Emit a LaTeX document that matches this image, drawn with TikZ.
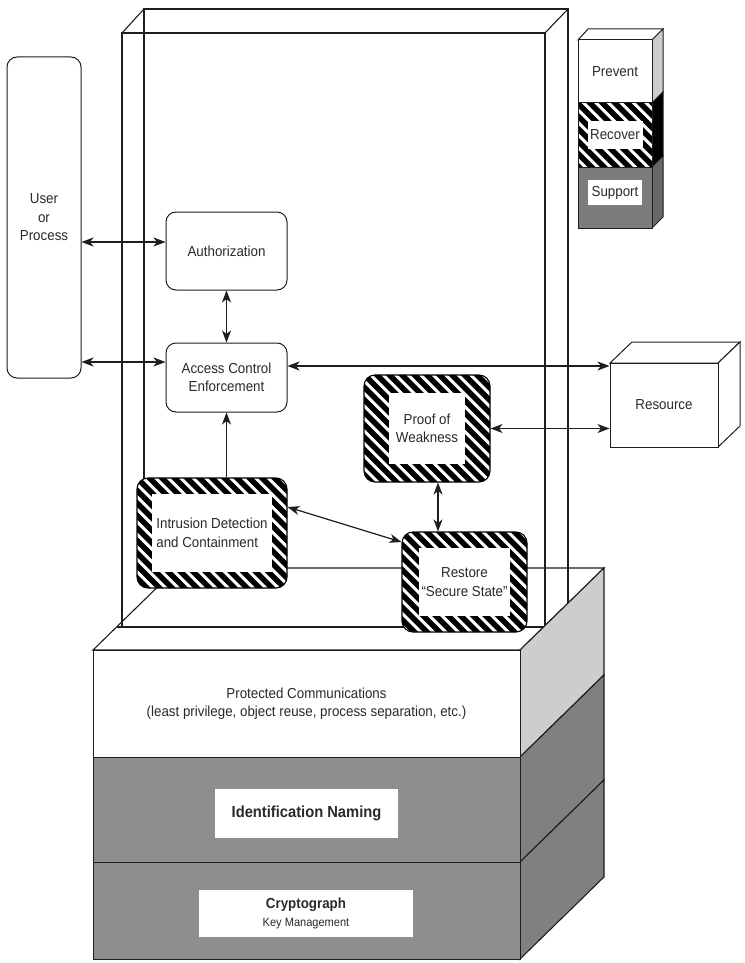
\documentclass[tikz,border=0pt]{standalone}
\usepackage{fontspec}
\setmainfont{Liberation Sans}[FakeStretch=0.92]
\usetikzlibrary{arrows.meta,calc}
\definecolor{edge}{HTML}{1E1E1E}
\definecolor{layergray}{HTML}{8E8E8E}
\definecolor{sidegray}{HTML}{808080}
\definecolor{lightside}{HTML}{CDCDCD}
\definecolor{suppgray}{HTML}{7C7C7C}
\definecolor{suppside}{HTML}{686868}
\definecolor{ink}{HTML}{2A2A2A}
\begin{document}
\begin{tikzpicture}[x=1pt,y=-1pt,
  font=\fontsize{14.5}{18.5}\selectfont, text=ink,
  outline/.style={draw=edge, line width=1pt},
  rbox/.style={outline, rounded corners=10pt, fill=white, align=center, inner sep=0pt},
  hatch/.style 2 args={draw=black, line width=1.1pt, rounded corners=11pt, fill=white,
    align=left, inner sep=0pt,
    path picture={
      \foreach \k in {-30,...,16}
        \draw[black, line width=5.4pt, sharp corners]
          ([xshift=\k*12.5pt-80pt, yshift=80pt]path picture bounding box.north) -- ++(320pt,-320pt);
      \fill[white, sharp corners]
        ([xshift=#1, yshift=#2]path picture bounding box.south west)
        rectangle ([xshift=-#1, yshift=-#2]path picture bounding box.north east);
    }},
  legfront/.style={outline, fill=white, minimum width=74pt, inner sep=0pt},
  dbl/.style={{Stealth[length=12pt, width=9pt, inset=3.5pt]}-{Stealth[length=12pt, width=9pt, inset=3.5pt]}, line width=1.2pt, draw=edge},
  single/.style={-{Stealth[length=12pt, width=9pt, inset=3.5pt]}, line width=1.2pt, draw=edge},
  lid/.style={outline, line width=1.1pt}
]
% page
\fill[white] (0,0) rectangle (744,963);
\useasboundingbox (0,0) rectangle (744,963);

% ---- base platform: top face ----
\draw[lid, fill=white] (93,650) -- (520,650) -- (604,568) -- (177,568) -- cycle;

% ---- transparent enclosure ----
\draw[lid] (122,33) rectangle (545,627);
\draw[lid] (144,500) -- (144,9) -- (568,9) -- (568,640);
\draw[lid] (122,33) -- (144,9);
\draw[lid] (545,33) -- (568,9);
\draw[lid] (117,627) -- (122,627);

% ---- base platform: side faces ----
\draw[lid, fill=lightside] (520,650) -- (604,568) -- (604,675) -- (520,757) -- cycle;
\draw[lid, fill=sidegray] (520,757) -- (604,675) -- (604,780) -- (520,862) -- cycle;
\draw[lid, fill=sidegray] (520,862) -- (604,780) -- (604,877) -- (520,959) -- cycle;

% ---- base platform: front layers ----
\node[outline, fill=white, minimum width=427pt, minimum height=107pt, inner sep=0pt, align=center]
  (protected) at (306.5,703.5)
  {Protected Communications\\(least privilege, object reuse, process separation, etc.)};
\node[outline, fill=layergray, minimum width=427pt, minimum height=105pt, inner sep=0pt]
  (naminglayer) at (306.5,809.5) {};
\node[outline, fill=layergray, minimum width=427pt, minimum height=97pt, inner sep=0pt]
  (cryptolayer) at (306.5,910.5) {};
\node[fill=white, minimum width=183pt, minimum height=49pt, inner sep=0pt,
  font=\fontsize{16}{19}\selectfont\bfseries] (naming) at (306.5,813.5) {Identification Naming};
\node[fill=white, minimum width=214pt, minimum height=47pt, inner sep=0pt, align=center]
  (crypto) at (306,913.5)
  {{\fontsize{14.5}{17}\selectfont\bfseries Cryptograph}\\[-1pt]{\fontsize{12}{14}\selectfont Key Management}};

% ---- legend column ----
\draw[outline, fill=white] (578,40) -- (588,29) -- (663,29) -- (652,40) -- cycle;
\draw[outline, fill=lightside] (652,40) -- (663,29) -- (663,92) -- (652,103) -- cycle;
\draw[outline, fill=black] (652,103) -- (663,92) -- (663,156) -- (652,167) -- cycle;
\draw[outline, fill=suppside] (652,167) -- (663,156) -- (663,217) -- (652,228) -- cycle;
\node[legfront, minimum height=63pt] (prevent) at (615,71.5) {Prevent};
\node[hatch={9.5pt}{18pt}, rounded corners=0pt, draw=edge, line width=1pt,
  minimum width=74pt, minimum height=64pt, align=center] (recover) at (615,135) {Recover};
\node[legfront, fill=suppgray, minimum height=61pt] (support) at (615,197.5) {};
\node[fill=white, minimum width=54pt, minimum height=25pt, inner sep=0pt] (supportlabel)
  at (615,192.5) {Support};

% ---- resource block ----
\draw[outline, fill=white] (610,363) -- (632,342) -- (740,342) -- (718,363) -- cycle;
\draw[outline, fill=white] (718,363) -- (740,342) -- (740,426) -- (718,447) -- cycle;
\node[outline, fill=white, minimum width=108pt, minimum height=84pt, inner sep=0pt]
  (res) at (664,405) {Resource};

% ---- functional boxes ----
\node[rbox, minimum width=74pt, minimum height=321pt] (user) at (44,217.5) {User\\or\\Process};
\node[rbox, minimum width=121pt, minimum height=78pt] (auth) at (226.5,251) {Authorization};
\node[rbox, minimum width=121pt, minimum height=69pt] (ace) at (226.5,377.5) {Access Control\\Enforcement};
\node[hatch={15pt}{16pt}, minimum width=150pt, minimum height=110pt] (intr) at (212,533)
  {Intrusion Detection\\and Containment};
\node[hatch={25pt}{18pt}, minimum width=126pt, minimum height=107pt, align=center] (proof)
  at (427,428.5) {Proof of\\Weakness};
\node[hatch={17pt}{16pt}, minimum width=125pt, minimum height=100pt, align=center] (restore)
  at (464.5,582) {Restore\\``Secure State''};

% ---- connectors ----
\coordinate (ua) at (0,242);
\coordinate (ub) at (0,362);
\coordinate (uc) at (0,366);
\coordinate (ud) at (438,0);
\coordinate (ue) at (0,507);
\coordinate (uf) at (0,542);
\draw[dbl] (user.east |- ua) -- (auth.west |- ua);
\draw[dbl] (user.east |- ub) -- (ace.west |- ub);
\draw[dbl] (auth.south) -- (ace.north);
\draw[single] (intr.north -| ace.south) -- (ace.south);
\draw[dbl] (ace.east |- uc) -- (res.west |- uc);
\draw[dbl] (proof.east) -- (res.west |- proof.east);
\draw[dbl] (proof.south -| ud) -- (restore.north -| ud);
\draw[dbl] (intr.east |- ue) -- (restore.west |- uf);
\end{tikzpicture}
\end{document}
